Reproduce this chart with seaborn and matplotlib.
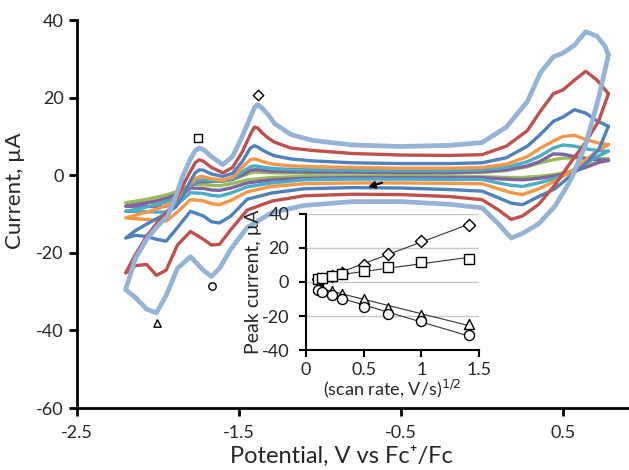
import numpy as np
import pandas as pd
import matplotlib
matplotlib.use("Agg")
import matplotlib.pyplot as plt
import seaborn as sns

# potentials of the cathodic (going negative) and anodic (going positive) branches
lower_v = [0.78, 0.72, 0.64, 0.55, 0.45, 0.35, 0.25, 0.18, 0.10, 0.0, -0.2, -0.5, -0.8, -1.1,
           -1.3, -1.45, -1.55, -1.62, -1.67, -1.72, -1.80, -1.88, -1.95, -2.01, -2.07, -2.14, -2.2]
upper_v = [-2.2, -2.14, -2.07, -2.0, -1.94, -1.89, -1.85, -1.80, -1.77, -1.745, -1.72, -1.67,
           -1.60, -1.54, -1.48, -1.43, -1.405, -1.385, -1.36, -1.32, -1.28, -1.18, -1.05, -0.8,
           -0.5, -0.2, 0.0, 0.15, 0.28, 0.36, 0.44, 0.50, 0.57, 0.64, 0.71, 0.76, 0.78]

# currents (uA), one pair of arrays per scan rate
green_lower = [4.2, 3.6, 2.2, 1.0, 0.2, -0.3, -0.6, -0.6, -0.5, -0.4, -0.4, -0.3, -0.3, -0.3,
               -0.6, -1.2, -2.2, -2.7, -2.6, -2.4, -2.3, -4.8, -6.8, -7.0, -7.0, -7.1, -7.1]
green_upper = [-7.1, -6.7, -6.2, -5.6, -5.0, -4.3, -3.6, -2.6, -2.0, -1.8, -1.7, -1.6, -1.4,
               -1.0, -0.2, 0.6, 0.8, 0.8, 0.75, 0.65, 0.6, 0.6, 0.6, 0.6, 0.5, 0.5, 0.7, 1.2,
               2.2, 3.2, 4.0, 4.4, 4.5, 4.4, 4.3, 4.2, 4.2]
purple_lower = [3.8, 3.3, 2.0, 0.8, -0.2, -0.8, -1.2, -1.1, -0.9, -0.6, -0.6, -0.6, -0.6, -0.8,
                -1.2, -2.0, -3.3, -3.9, -3.8, -3.4, -3.3, -6.0, -8.0, -8.1, -8.0, -8.0, -8.0]
purple_upper = [-8.0, -7.6, -7.1, -6.5, -5.8, -5.0, -4.1, -2.8, -2.0, -1.7, -1.6, -1.6, -1.5,
                -1.1, 0.0, 1.3, 1.4, 1.4, 1.3, 1.1, 1.0, 0.9, 0.8, 0.8, 0.7, 0.7, 0.9, 1.4,
                2.4, 3.6, 5.5, 5.4, 4.8, 4.3, 4.0, 3.9, 3.8]
teal_lower = [6.2, 5.0, 3.0, 0.8, -0.8, -2.0, -2.9, -2.6, -2.0, -1.1, -1.1, -1.0, -1.0, -1.2,
              -2.0, -3.0, -4.6, -5.4, -5.2, -4.7, -4.5, -7.5, -9.5, -9.5, -9.4, -9.3, -9.3]
teal_upper = [-9.3, -8.8, -8.2, -7.5, -6.7, -5.8, -4.6, -2.7, -1.7, -1.3, -1.2, -1.4, -1.5,
              -0.9, 0.8, 2.2, 2.4, 2.3, 2.1, 1.9, 1.7, 1.5, 1.4, 1.3, 1.2, 1.2, 1.4, 2.0,
              3.5, 5.0, 7.0, 7.8, 7.5, 6.8, 6.4, 6.2, 6.2]
orange_lower = [7.9, 6.5, 4.0, 1.0, -1.5, -3.5, -5.0, -4.5, -3.5, -2.2, -2.1, -2.0, -2.0, -2.2,
                -2.9, -4.3, -6.5, -7.6, -7.3, -6.6, -6.3, -9.5, -11.8, -11.7, -11.4, -11.2, -11.0]
orange_upper = [-11.0, -10.3, -9.5, -8.6, -7.6, -6.5, -4.8, -2.2, -0.9, -0.4, -0.4, -0.9, -1.3,
                -0.5, 2.0, 4.0, 4.2, 4.0, 3.6, 3.1, 2.8, 2.4, 2.2, 2.0, 1.8, 1.8, 2.0, 2.8,
                4.8, 7.0, 8.8, 10.0, 10.3, 9.2, 8.4, 8.0, 7.9]
blue_lower = [12.6, 6.6, 3.0, 0.0, -3.5, -5.5, -7.6, -7.2, -5.8, -4.1, -3.7, -3.3, -3.2, -3.5,
              -4.6, -6.2, -10.5, -12.3, -12.0, -10.5, -9.3, -13.5, -17.0, -16.5, -15.8, -15.5, -16.2]
blue_upper = [-16.2, -14.3, -12.6, -11.0, -9.6, -8.2, -5.5, -1.5, 0.6, 1.4, 1.3, 0.3, -0.3,
              0.5, 3.5, 7.0, 7.6, 7.3, 6.6, 5.7, 5.0, 4.2, 3.7, 3.2, 3.0, 3.0, 3.2, 4.5,
              7.5, 10.5, 13.9, 15.0, 16.9, 16.0, 14.0, 13.0, 12.6]
red_lower = [21.0, 14.0, 8.5, 3.5, -2.5, -7.5, -10.5, -11.4, -8.9, -6.3, -5.5, -5.0, -4.9, -5.3,
             -6.7, -9.0, -14.0, -17.8, -18.0, -16.5, -14.5, -18.0, -24.5, -25.8, -23.0, -23.3, -25.2]
red_upper = [-25.2, -20.5, -15.7, -12.0, -9.3, -6.5, -3.0, 1.0, 3.2, 4.0, 3.6, 2.0, 0.6,
             2.0, 6.0, 10.5, 12.4, 12.2, 11.0, 9.6, 8.5, 7.0, 6.4, 5.6, 5.2, 5.1, 5.3, 7.5,
             11.5, 16.5, 21.0, 22.0, 24.5, 26.8, 24.5, 22.0, 21.0]
lblue_lower = [31.0, 20.0, 8.0, -1.0, -8.0, -12.5, -15.0, -16.2, -12.5, -8.4, -7.5, -6.8, -6.8,
               -7.8, -9.7, -13.5, -19.0, -24.0, -26.1, -24.5, -21.0, -24.0, -31.0, -35.5, -34.5,
               -31.5, -29.5]
lblue_upper = [-29.5, -21.5, -16.5, -13.0, -10.5, -5.5, -0.5, 4.2, 6.3, 7.0, 6.6, 4.8, 2.7,
               4.8, 10.0, 15.0, 17.4, 18.2, 17.4, 15.6, 13.3, 10.5, 9.0, 7.8, 7.4, 7.7, 8.4,
               12.4, 19.0, 26.4, 30.5, 31.5, 33.5, 37.0, 35.8, 33.2, 31.0]

# peak labels on the main plot
peak_v = [-1.381, -1.751, -1.665, -2.008]
peak_i = [20.6, 9.6, -28.6, -38.1]
peak_markers = ["D", "s", "o", "^"]

# inset: peak current vs sqrt(scan rate)
sqrt_rate = [0.1, 0.141, 0.224, 0.316, 0.5, 0.707, 1.0, 1.414]
ip_diamond = [1.6, 2.0, 3.3, 5.3, 10.2, 16.3, 24.3, 33.7]
ip_square = [2.0, 2.4, 3.3, 4.9, 6.5, 8.8, 11.8, 13.3]
ip_triangle = [-2.9, -3.9, -5.3, -6.9, -10.0, -15.1, -19.6, -24.5]
ip_circle = [-4.5, -5.9, -7.8, -10.2, -14.7, -18.6, -22.9, -31.4]

curves = [
    ("green", green_lower, green_upper, "#9BBB59", 2.4),
    ("purple", purple_lower, purple_upper, "#8064A2", 2.4),
    ("teal", teal_lower, teal_upper, "#4BACC6", 2.4),
    ("orange", orange_lower, orange_upper, "#F79646", 2.4),
    ("blue", blue_lower, blue_upper, "#4F81BD", 2.4),
    ("red", red_lower, red_upper, "#C0504D", 2.4),
    ("lightblue", lblue_lower, lblue_upper, "#95B3D7", 3.4),
]

sns.set_style("ticks")
plt.rcParams["font.family"] = ["Lato", "DejaVu Sans"]

fig, ax = plt.subplots(figsize=(6.29, 4.70), dpi=100)
fig.subplots_adjust(left=0.1224, right=1.0, bottom=0.1319, top=0.9574)

for name, lo, up, color, lw in curves:
    df = pd.DataFrame({"V": lower_v + upper_v, "I": lo + up})
    sns.lineplot(data=df, x="V", y="I", sort=False, estimator=None, color=color,
                 lw=lw, ax=ax, solid_joinstyle="round", solid_capstyle="round")

for v, i, m in zip(peak_v, peak_i, peak_markers):
    sns.scatterplot(x=[v], y=[i], marker=m, s=28, color="white", edgecolor="black",
                    linewidth=1.0, ax=ax, zorder=5)

ax.annotate("", xy=(-0.72, -3.3), xytext=(-0.60, -1.7),
            arrowprops=dict(arrowstyle="-|>", color="black", lw=1.5, mutation_scale=10))

ax.set_xlim(-2.5, 0.907)
ax.set_ylim(-60, 40)
ax.set_xticks([-2.5, -1.5, -0.5, 0.5])
ax.set_yticks([40, 20, 0, -20, -40, -60])
ax.set_xticklabels(["-2.5", "-1.5", "-0.5", "0.5"])
ax.set_yticklabels(["40", "20", "0", "-20", "-40", "-60"])
ax.tick_params(axis="both", labelsize=13, width=2, length=6, color="black")
ax.tick_params(axis="x", pad=6)
ax.set_xlabel("Potential, V vs Fc⁺/Fc", fontsize=17)
ax.set_ylabel("Current, µA", fontsize=16)
ax.xaxis.set_label_coords(0.4783, -0.097)
ax.yaxis.set_label_coords(-0.094, 0.56)
sns.despine(ax=ax)
for s in ["left", "bottom"]:
    ax.spines[s].set_linewidth(2)
    ax.spines[s].set_color("black")

# inset
ins = fig.add_axes([0.4865, 0.2553, 0.275, 0.2894])
ins.set_facecolor("white")
for vals, m, ms in [(ip_diamond, "D", 38), (ip_square, "s", 48),
                    (ip_triangle, "^", 52), (ip_circle, "o", 52)]:
    sns.regplot(x=sqrt_rate, y=vals, ci=None, scatter=False, ax=ins,
                line_kws=dict(color="#333333", lw=0.8))
    sns.scatterplot(x=sqrt_rate, y=vals, marker=m, s=ms, color="white", edgecolor="black",
                    linewidth=1.0, ax=ins, zorder=5)
ins.set_xlim(0, 1.5)
ins.set_ylim(-40, 40)
ins.set_xticks([0, 0.5, 1, 1.5])
ins.set_xticklabels(["0", "0.5", "1", "1.5"])
ins.set_yticks([-40, -20, 0, 20, 40])
ins.set_yticklabels(["-40", "-20", "0", "20", "40"])
ins.yaxis.grid(True, color="#c8c8c8", lw=1)
ins.set_axisbelow(True)
ins.tick_params(axis="both", labelsize=13, width=1.5, length=5, color="black")
ins.tick_params(axis="y", pad=7)
ins.set_xlabel("(scan rate, V/s)$^{1/2}$", fontsize=13, labelpad=0)
ins.set_ylabel("Peak current, µA", fontsize=14, labelpad=0)
sns.despine(ax=ins)
for s in ["left", "bottom"]:
    ins.spines[s].set_linewidth(1.5)
    ins.spines[s].set_color("black")

fig.savefig("out.png", dpi=100)
